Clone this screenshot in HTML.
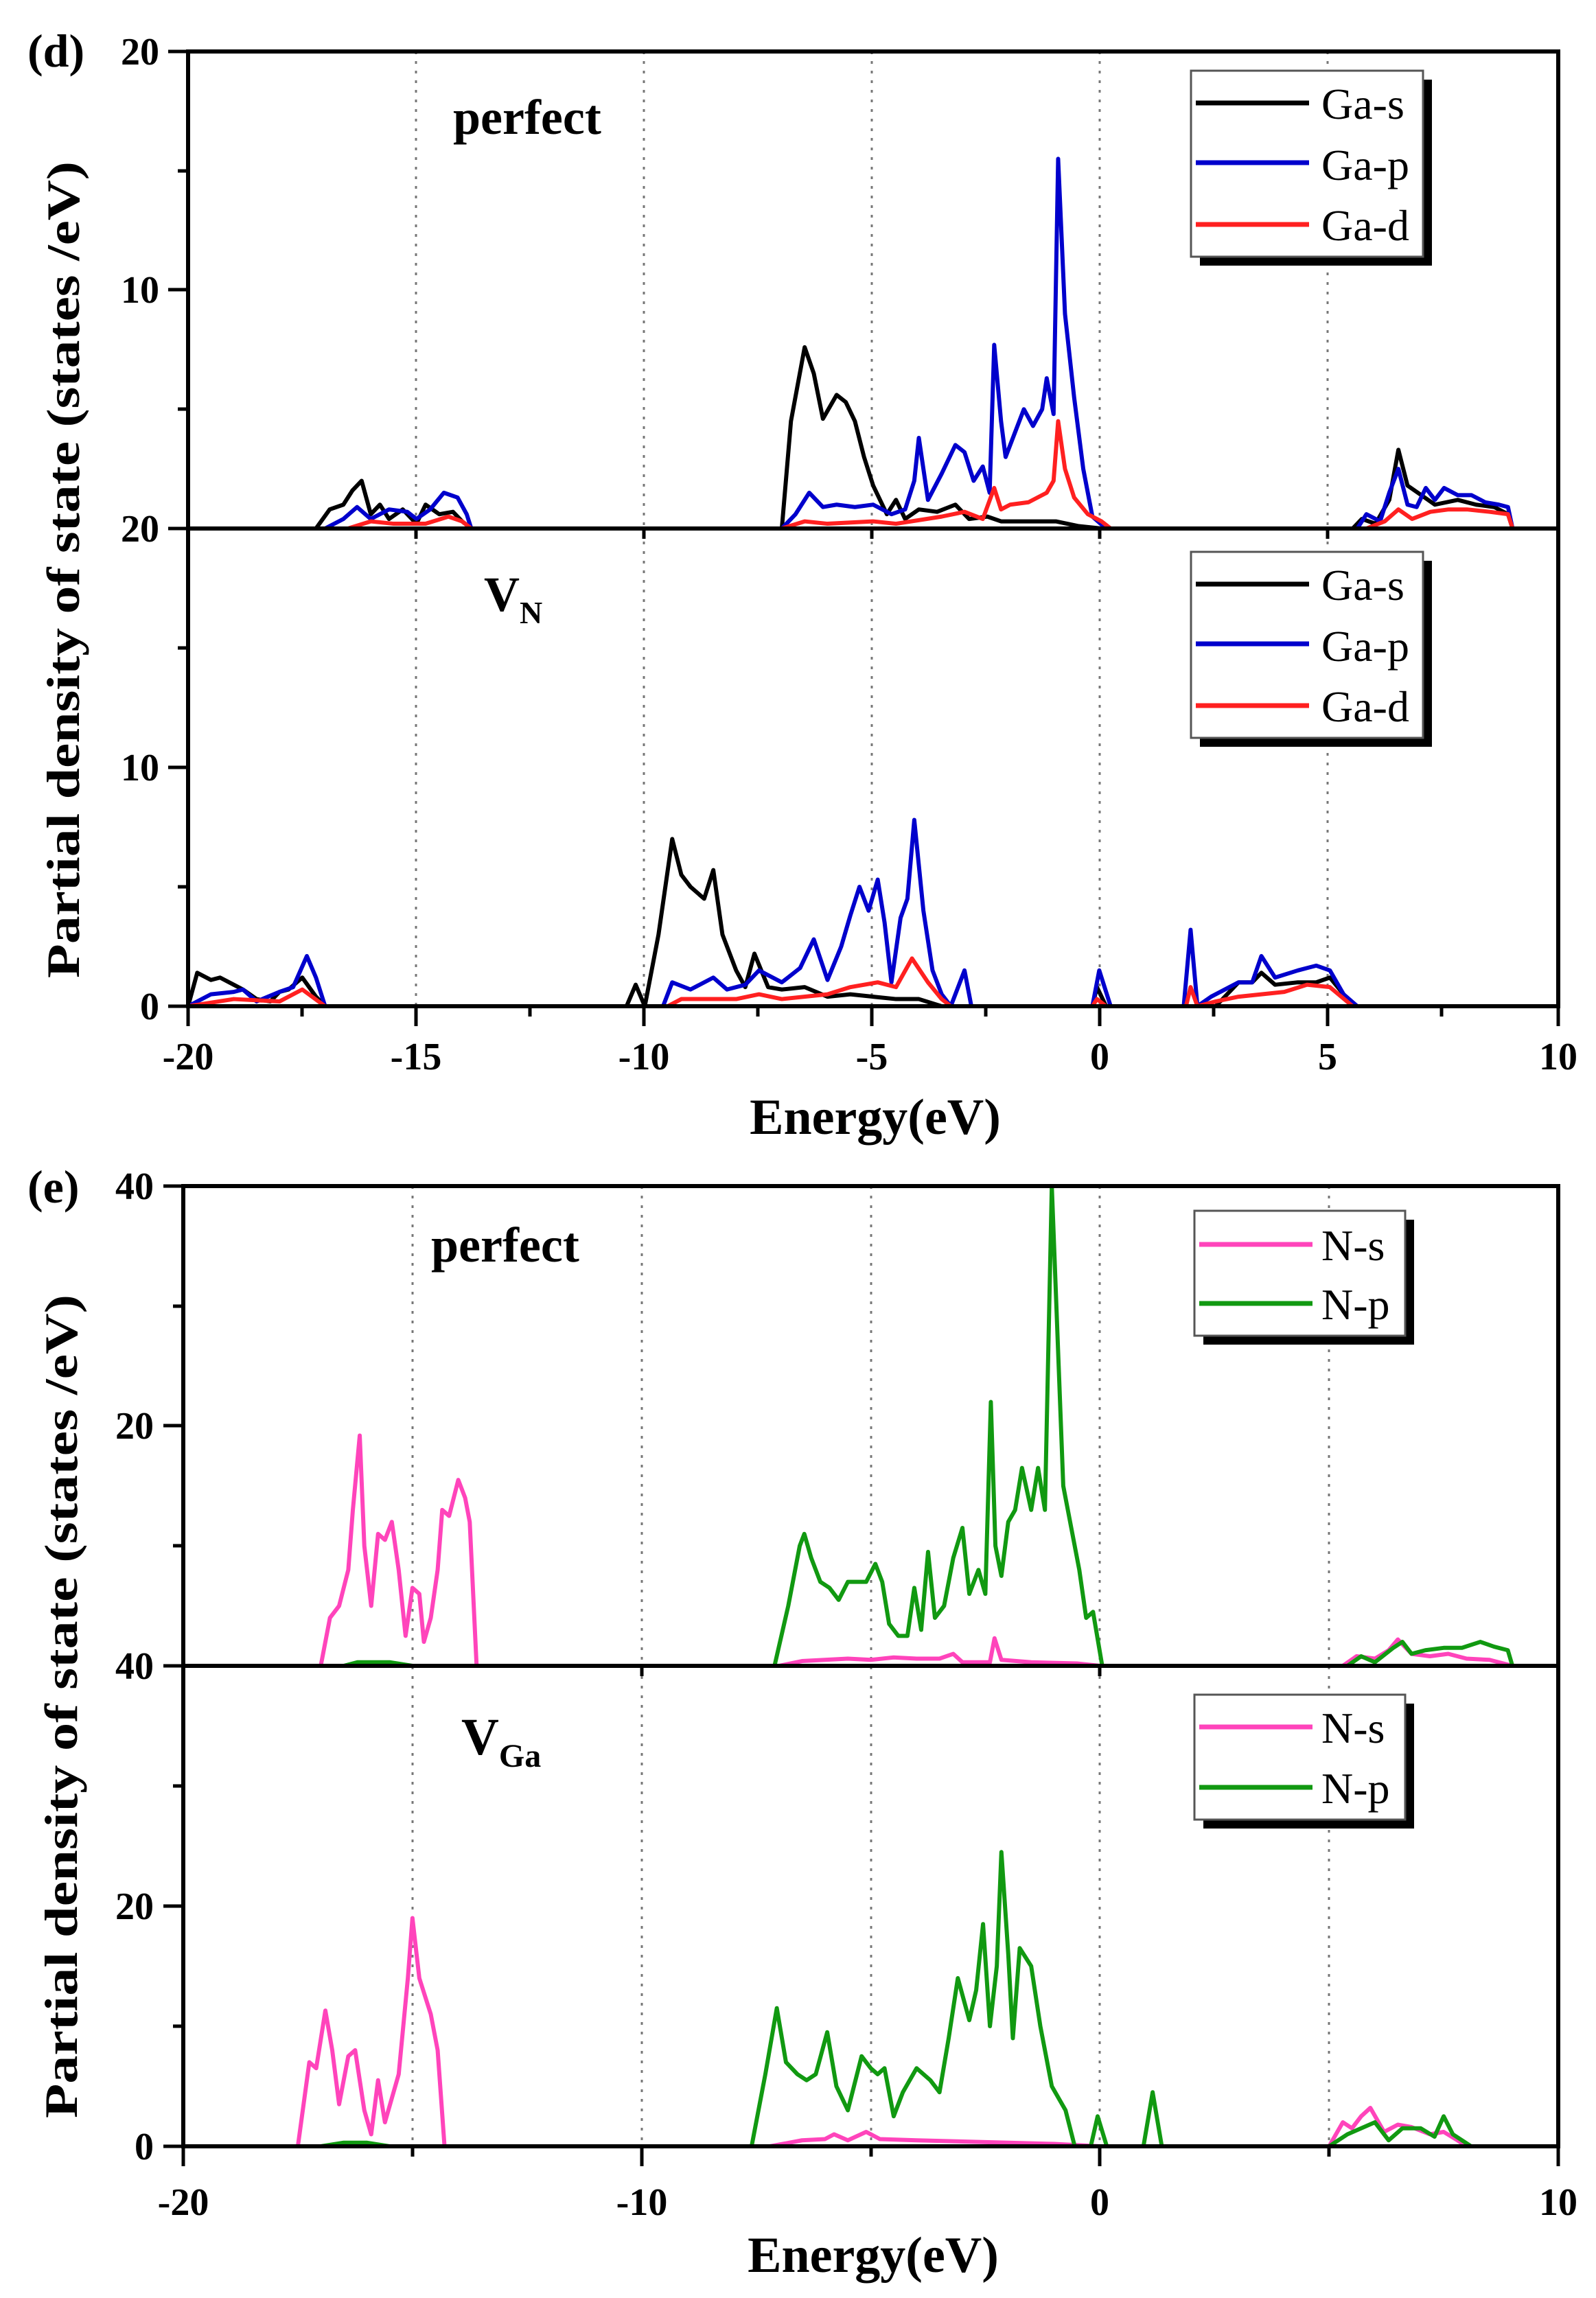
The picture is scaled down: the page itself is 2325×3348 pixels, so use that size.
<!DOCTYPE html>
<html><head><meta charset="utf-8"><style>
html,body{margin:0;padding:0;background:#fff}
svg{display:block}
text{font-family:"Liberation Serif",serif}
polyline{stroke-width:6px}
</style></head><body>
<svg width="2325" height="3348" viewBox="0 0 2325 3348" xmlns="http://www.w3.org/2000/svg">
<rect width="2325" height="3348" fill="#fff"/>

<!-- ===== Panel d ===== -->
<g stroke="#777" stroke-width="3" stroke-dasharray="4,10">
<line x1="606" y1="75" x2="606" y2="1466"/><line x1="938" y1="75" x2="938" y2="1466"/>
<line x1="1270" y1="75" x2="1270" y2="1466"/><line x1="1602" y1="75" x2="1602" y2="1466"/>
<line x1="1934" y1="75" x2="1934" y2="1466"/>
</g>

<svg x="274" y="75" width="1996" height="695" viewBox="-20 -20 30 20" preserveAspectRatio="none" overflow="hidden">
<g fill="none" stroke-linejoin="round">
<polyline vector-effect="non-scaling-stroke" stroke="#000" points="-17.2,0 -16.9,-0.8 -16.6,-1.0 -16.4,-1.6 -16.2,-2.0 -16.0,-0.6 -15.8,-1.0 -15.6,-0.4 -15.3,-0.8 -15.0,-0.2 -14.8,-1.0 -14.5,-0.6 -14.2,-0.7 -14.0,-0.3 -13.8,0 -7.0,0 -6.8,-4.5 -6.5,-7.6 -6.3,-6.5 -6.1,-4.6 -5.8,-5.6 -5.6,-5.3 -5.4,-4.5 -5.2,-3.0 -5.0,-1.8 -4.7,-0.6 -4.5,-1.2 -4.3,-0.4 -4.0,-0.8 -3.6,-0.7 -3.2,-1.0 -2.9,-0.4 -2.5,-0.5 -2.2,-0.3 -1.5,-0.3 -1.0,-0.3 -0.5,-0.1 0,0 5.5,0 5.7,-0.4 6.0,-0.2 6.3,-1.2 6.5,-3.3 6.7,-1.8 7.0,-1.4 7.3,-1.0 7.8,-1.2 8.2,-1.0 8.6,-0.9 8.9,-0.6 9.0,0"/>
<polyline vector-effect="non-scaling-stroke" stroke="#0000cc" points="-17.0,0 -16.6,-0.4 -16.3,-0.9 -16.0,-0.4 -15.6,-0.8 -15.2,-0.7 -15.0,-0.4 -14.7,-0.8 -14.4,-1.5 -14.1,-1.3 -13.9,-0.6 -13.8,0 -7.0,0 -6.7,-0.6 -6.4,-1.5 -6.1,-0.9 -5.8,-1.0 -5.4,-0.9 -5.0,-1.0 -4.6,-0.6 -4.3,-0.8 -4.1,-2.0 -4.0,-3.8 -3.8,-1.2 -3.5,-2.3 -3.2,-3.5 -3.0,-3.2 -2.8,-2.0 -2.6,-2.6 -2.45,-1.5 -2.35,-7.7 -2.2,-4.5 -2.1,-3.0 -1.9,-4.0 -1.7,-5.0 -1.5,-4.3 -1.3,-5.0 -1.2,-6.3 -1.05,-4.8 -0.95,-15.5 -0.8,-9.0 -0.6,-5.5 -0.4,-2.5 -0.2,-0.5 0.1,0 5.6,0 5.8,-0.6 6.1,-0.3 6.3,-1.5 6.5,-2.5 6.7,-1.0 6.9,-0.9 7.1,-1.7 7.3,-1.2 7.5,-1.7 7.8,-1.4 8.1,-1.4 8.4,-1.1 8.7,-1.0 8.9,-0.9 9.0,0"/>
<polyline vector-effect="non-scaling-stroke" stroke="#ff2020" points="-20,0 -16.5,0 -16,-0.3 -15.5,-0.2 -14.8,-0.2 -14.3,-0.5 -14,-0.3 -13.8,0 -7,0 -6.5,-0.3 -6,-0.2 -5,-0.3 -4.5,-0.2 -3.5,-0.5 -3,-0.7 -2.6,-0.4 -2.35,-1.7 -2.2,-0.8 -2.0,-1.0 -1.6,-1.1 -1.2,-1.5 -1.05,-2.0 -0.95,-4.5 -0.8,-2.5 -0.6,-1.3 -0.3,-0.6 0,-0.3 0.2,0 5.8,0 6.2,-0.3 6.5,-0.8 6.8,-0.4 7.2,-0.7 7.6,-0.8 8.0,-0.8 8.5,-0.7 8.9,-0.6 9.0,0 10,0"/>
</g></svg>

<svg x="274" y="770" width="1996" height="696" viewBox="-20 -20 30 20" preserveAspectRatio="none" overflow="hidden">
<g fill="none" stroke-linejoin="round">
<polyline vector-effect="non-scaling-stroke" stroke="#000" points="-20,0 -19.8,-1.4 -19.5,-1.1 -19.3,-1.2 -19.0,-0.9 -18.8,-0.7 -18.5,-0.3 -18.2,-0.2 -18.0,-0.6 -17.8,-0.7 -17.5,-1.2 -17.2,-0.4 -17.0,0 -10.4,0 -10.2,-0.9 -10.0,0 -9.7,-3.0 -9.4,-7.0 -9.2,-5.5 -9.0,-5.0 -8.7,-4.5 -8.5,-5.7 -8.3,-3.0 -8.0,-1.5 -7.8,-0.8 -7.6,-2.2 -7.3,-0.8 -7.0,-0.7 -6.5,-0.8 -6.0,-0.4 -5.5,-0.5 -5.0,-0.4 -4.5,-0.3 -4.0,-0.3 -3.5,0 -0.2,0 -0.1,-0.8 0.1,0 2.5,0 3.0,-1.0 3.3,-1.0 3.5,-1.4 3.8,-0.9 4.3,-1.0 4.7,-1.0 5.0,-1.2 5.3,-0.5 5.5,0 10,0"/>
<polyline vector-effect="non-scaling-stroke" stroke="#0000cc" points="-20,0 -19.5,-0.5 -19,-0.6 -18.8,-0.7 -18.5,-0.2 -18.0,-0.6 -17.7,-0.8 -17.4,-2.1 -17.2,-1.2 -17.0,0 -9.6,0 -9.4,-1.0 -9.0,-0.7 -8.5,-1.2 -8.2,-0.7 -7.8,-0.9 -7.5,-1.5 -7.0,-1.0 -6.6,-1.6 -6.3,-2.8 -6.0,-1.1 -5.7,-2.5 -5.5,-3.8 -5.3,-5.0 -5.1,-4.0 -4.9,-5.3 -4.75,-3.5 -4.6,-1.0 -4.4,-3.7 -4.25,-4.5 -4.1,-7.8 -3.9,-4.0 -3.7,-1.5 -3.5,-0.5 -3.3,0 -3.0,-1.5 -2.85,0 -0.2,0 -0.05,-1.5 0.2,0 1.8,0 1.95,-3.2 2.1,0 2.4,-0.4 3.0,-1.0 3.3,-1.0 3.5,-2.1 3.8,-1.2 4.3,-1.5 4.7,-1.7 5.0,-1.5 5.3,-0.5 5.6,0 10,0"/>
<polyline vector-effect="non-scaling-stroke" stroke="#ff2020" points="-20,0 -19,-0.3 -18,-0.2 -17.5,-0.7 -17.0,0 -9.5,0 -9.2,-0.3 -8,-0.3 -7.5,-0.5 -7,-0.3 -6,-0.5 -5.5,-0.8 -4.9,-1.0 -4.5,-0.8 -4.15,-2.0 -3.8,-1.0 -3.5,-0.3 -3.3,0 -0.2,0 -0.1,-0.3 0.1,0 1.85,0 1.95,-0.8 2.1,0 2.5,-0.2 3,-0.4 3.5,-0.5 4,-0.6 4.5,-0.9 5.0,-0.8 5.5,0 10,0"/>
</g></svg>

<!-- d axes -->
<g stroke="#000" stroke-width="6" fill="none">
<rect x="274" y="75" width="1996" height="1391"/>
<line x1="274" y1="770" x2="2270" y2="770"/>
</g>
<g stroke="#000" stroke-width="5">
<line x1="274" y1="1466" x2="274" y2="1495"/><line x1="606" y1="1466" x2="606" y2="1495"/><line x1="938" y1="1466" x2="938" y2="1495"/><line x1="1270" y1="1466" x2="1270" y2="1495"/><line x1="1602" y1="1466" x2="1602" y2="1495"/><line x1="1934" y1="1466" x2="1934" y2="1495"/><line x1="2270" y1="1466" x2="2270" y2="1495"/>
<line x1="440" y1="1466" x2="440" y2="1481"/><line x1="772" y1="1466" x2="772" y2="1481"/><line x1="1104" y1="1466" x2="1104" y2="1481"/><line x1="1436" y1="1466" x2="1436" y2="1481"/><line x1="1768" y1="1466" x2="1768" y2="1481"/><line x1="2100" y1="1466" x2="2100" y2="1481"/>
<line x1="606" y1="770" x2="606" y2="785"/><line x1="938" y1="770" x2="938" y2="785"/><line x1="1270" y1="770" x2="1270" y2="785"/><line x1="1602" y1="770" x2="1602" y2="785"/><line x1="1934" y1="770" x2="1934" y2="785"/>
<line x1="245" y1="75" x2="274" y2="75"/><line x1="245" y1="422" x2="274" y2="422"/><line x1="245" y1="770" x2="274" y2="770"/><line x1="245" y1="1118" x2="274" y2="1118"/><line x1="245" y1="1466" x2="274" y2="1466"/>
<line x1="259" y1="249" x2="274" y2="249"/><line x1="259" y1="596" x2="274" y2="596"/><line x1="259" y1="944" x2="274" y2="944"/><line x1="259" y1="1292" x2="274" y2="1292"/>
</g>
<g font-size="56" text-anchor="end" font-weight="bold">
<text x="232" y="94">20</text><text x="232" y="441">10</text><text x="232" y="789">20</text><text x="232" y="1137">10</text><text x="232" y="1485">0</text>
</g>
<g font-size="56" text-anchor="middle" font-weight="bold">
<text x="274" y="1558">-20</text><text x="606" y="1558">-15</text><text x="938" y="1558">-10</text><text x="1270" y="1558">-5</text><text x="1602" y="1558">0</text><text x="1934" y="1558">5</text><text x="2270" y="1558">10</text>
</g>
<text x="1275" y="1652" font-size="74" font-weight="bold" text-anchor="middle">Energy(eV)</text>
<text x="40" y="97" font-size="68" font-weight="bold">(d)</text>
<text transform="translate(115,830) rotate(-90)" font-size="68" font-weight="bold" text-anchor="middle" textLength="1190" lengthAdjust="spacingAndGlyphs">Partial density of state (states /eV)</text>
<text x="660" y="195" font-size="72" font-weight="bold">perfect</text>
<text x="705" y="890" font-size="72" font-weight="bold">V<tspan font-size="46" dy="18">N</tspan></text>

<!-- d legends -->
<g>
<rect x="1748" y="116" width="338" height="271" fill="#000"/>
<rect x="1735" y="103" width="338" height="271" fill="#fff" stroke="#555" stroke-width="3"/>
<line x1="1742" y1="150" x2="1907" y2="150" stroke="#000" stroke-width="7"/>
<line x1="1742" y1="237" x2="1907" y2="237" stroke="#0000cc" stroke-width="7"/>
<line x1="1742" y1="327" x2="1907" y2="327" stroke="#ff2020" stroke-width="7"/>
<g font-size="64"><text x="1925" y="173">Ga-s</text><text x="1925" y="262">Ga-p</text><text x="1925" y="350">Ga-d</text></g>
</g>
<g>
<rect x="1748" y="817" width="338" height="271" fill="#000"/>
<rect x="1735" y="804" width="338" height="271" fill="#fff" stroke="#555" stroke-width="3"/>
<line x1="1742" y1="851" x2="1907" y2="851" stroke="#000" stroke-width="7"/>
<line x1="1742" y1="938" x2="1907" y2="938" stroke="#0000cc" stroke-width="7"/>
<line x1="1742" y1="1028" x2="1907" y2="1028" stroke="#ff2020" stroke-width="7"/>
<g font-size="64"><text x="1925" y="874">Ga-s</text><text x="1925" y="963">Ga-p</text><text x="1925" y="1051">Ga-d</text></g>
</g>

<!-- ===== Panel e ===== -->
<g stroke="#777" stroke-width="3" stroke-dasharray="4,10">
<line x1="601" y1="1728" x2="601" y2="3127"/><line x1="935" y1="1728" x2="935" y2="3127"/>
<line x1="1269" y1="1728" x2="1269" y2="3127"/><line x1="1602" y1="1728" x2="1602" y2="3127"/>
<line x1="1936" y1="1728" x2="1936" y2="3127"/>
</g>

<svg x="267" y="1728" width="2003" height="699" viewBox="-20 -40 30 40" preserveAspectRatio="none" overflow="hidden">
<g fill="none" stroke-linejoin="round">
<polyline vector-effect="non-scaling-stroke" stroke="#ff44bb" points="-17.0,0 -16.8,-4.0 -16.6,-5.0 -16.4,-8 -16.3,-13 -16.15,-19.2 -16.05,-10 -15.9,-5 -15.75,-11 -15.6,-10.5 -15.45,-12 -15.3,-8 -15.15,-2.5 -15.0,-6.5 -14.85,-6 -14.75,-2 -14.6,-4 -14.45,-8 -14.35,-13 -14.2,-12.5 -14.0,-15.5 -13.85,-14 -13.75,-12 -13.6,0 -7,0 -6.5,-0.4 -5.5,-0.6 -5,-0.5 -4.5,-0.7 -4,-0.6 -3.5,-0.6 -3.2,-1.0 -3,-0.3 -2.4,-0.3 -2.3,-2.3 -2.15,-0.5 -1.5,-0.3 -0.5,-0.2 0,0 5.3,0 5.6,-0.8 6.0,-0.6 6.3,-1.3 6.5,-2.2 6.8,-1.0 7.2,-0.8 7.6,-1.0 8.0,-0.6 8.5,-0.5 9.0,0"/>
<polyline vector-effect="non-scaling-stroke" stroke="#119911" points="-20,0 -16.5,0 -16.2,-0.3 -15.5,-0.3 -15,0 -7.1,0 -6.8,-5 -6.55,-10 -6.45,-11 -6.3,-9 -6.1,-7 -5.9,-6.5 -5.7,-5.5 -5.5,-7 -5.3,-7 -5.1,-7 -4.9,-8.5 -4.75,-7 -4.6,-3.5 -4.4,-2.5 -4.2,-2.5 -4.05,-6.5 -3.9,-3 -3.75,-9.5 -3.6,-4 -3.4,-5 -3.2,-9 -3.0,-11.5 -2.85,-6 -2.65,-8 -2.5,-6 -2.38,-22 -2.28,-10 -2.15,-7.5 -2.0,-12 -1.85,-13 -1.7,-16.5 -1.5,-13 -1.35,-16.5 -1.2,-13 -1.05,-40 -0.9,-25 -0.8,-15 -0.6,-11 -0.45,-8 -0.3,-4 -0.15,-4.5 0.05,0 5.4,0 5.7,-0.8 6.0,-0.3 6.4,-1.5 6.6,-2.0 6.8,-1.0 7.1,-1.3 7.5,-1.5 7.9,-1.5 8.3,-2.0 8.6,-1.6 8.9,-1.3 9.0,0 10,0"/>
</g></svg>

<svg x="267" y="2427" width="2003" height="700" viewBox="-20 -40 30 40" preserveAspectRatio="none" overflow="hidden">
<g fill="none" stroke-linejoin="round">
<polyline vector-effect="non-scaling-stroke" stroke="#ff44bb" points="-17.5,0 -17.25,-7 -17.1,-6.5 -16.9,-11.3 -16.75,-8 -16.6,-3.5 -16.4,-7.5 -16.25,-8 -16.05,-3 -15.9,-1 -15.75,-5.5 -15.6,-2 -15.45,-4 -15.3,-6 -15.1,-14 -15.0,-19 -14.85,-14 -14.6,-11 -14.45,-8 -14.3,0 -7.2,0 -6.5,-0.5 -6,-0.6 -5.8,-1.0 -5.5,-0.5 -5.1,-1.2 -4.8,-0.6 -4,-0.5 -3,-0.4 -2,-0.3 -1,-0.2 0,0 5.0,0 5.3,-2 5.5,-1.5 5.7,-2.5 5.9,-3.2 6.2,-1.2 6.5,-1.8 6.8,-1.6 7.2,-1.0 7.5,-1.2 7.8,-0.5 8.0,0"/>
<polyline vector-effect="non-scaling-stroke" stroke="#119911" points="-20,0 -17,0 -16.5,-0.3 -16,-0.3 -15.5,0 -7.6,0 -7.3,-6 -7.05,-11.5 -6.85,-7 -6.6,-6 -6.4,-5.5 -6.2,-6 -5.95,-9.5 -5.75,-5 -5.5,-3 -5.2,-7.5 -5.0,-6.5 -4.85,-6 -4.7,-6.5 -4.5,-2.5 -4.3,-4.5 -4.0,-6.5 -3.7,-5.5 -3.5,-4.5 -3.3,-9 -3.1,-14 -2.85,-10.5 -2.7,-13 -2.55,-18.5 -2.4,-10 -2.25,-15 -2.15,-24.5 -2.0,-16 -1.9,-9 -1.75,-16.5 -1.5,-15 -1.3,-10 -1.05,-5 -0.75,-3 -0.55,0 -0.2,0 -0.05,-2.5 0.15,0 0.95,0 1.15,-4.5 1.35,0 5.0,0 5.4,-1 5.7,-1.5 6.0,-2 6.3,-0.5 6.6,-1.5 7.0,-1.5 7.3,-0.8 7.5,-2.5 7.7,-1.0 7.9,-0.5 8.1,0 10,0"/>
</g></svg>

<g stroke="#000" stroke-width="6" fill="none">
<rect x="267" y="1728" width="2003" height="1399"/>
<line x1="267" y1="2427" x2="2270" y2="2427"/>
</g>
<g stroke="#000" stroke-width="5">
<line x1="267" y1="3127" x2="267" y2="3156"/><line x1="935" y1="3127" x2="935" y2="3156"/><line x1="1602" y1="3127" x2="1602" y2="3156"/><line x1="2270" y1="3127" x2="2270" y2="3156"/>
<line x1="601" y1="3127" x2="601" y2="3142"/><line x1="1269" y1="3127" x2="1269" y2="3142"/><line x1="1936" y1="3127" x2="1936" y2="3142"/>
<line x1="935" y1="2427" x2="935" y2="2442"/><line x1="1602" y1="2427" x2="1602" y2="2442"/>
<line x1="238" y1="1728" x2="267" y2="1728"/><line x1="238" y1="2077" x2="267" y2="2077"/><line x1="238" y1="2427" x2="267" y2="2427"/><line x1="238" y1="2777" x2="267" y2="2777"/><line x1="238" y1="3127" x2="267" y2="3127"/>
<line x1="252" y1="1903" x2="267" y2="1903"/><line x1="252" y1="2252" x2="267" y2="2252"/><line x1="252" y1="2602" x2="267" y2="2602"/><line x1="252" y1="2952" x2="267" y2="2952"/>
</g>
<g font-size="56" text-anchor="end" font-weight="bold">
<text x="224" y="1747">40</text><text x="224" y="2096">20</text><text x="224" y="2446">40</text><text x="224" y="2796">20</text><text x="224" y="3146">0</text>
</g>
<g font-size="56" text-anchor="middle" font-weight="bold">
<text x="267" y="3227">-20</text><text x="935" y="3227">-10</text><text x="1602" y="3227">0</text><text x="2270" y="3227">10</text>
</g>
<text x="1272" y="3310" font-size="74" font-weight="bold" text-anchor="middle">Energy(eV)</text>
<text x="40" y="1752" font-size="68" font-weight="bold">(e)</text>
<text transform="translate(112,2486) rotate(-90)" font-size="68" font-weight="bold" text-anchor="middle" textLength="1200" lengthAdjust="spacingAndGlyphs">Partial density of state (states /eV)</text>
<text x="628" y="1838" font-size="72" font-weight="bold">perfect</text>
<text x="672" y="2556" font-size="76" font-weight="bold">V<tspan font-size="48" dy="18">Ga</tspan></text>

<g>
<rect x="1753" y="1777" width="307" height="182" fill="#000"/>
<rect x="1740" y="1764" width="307" height="182" fill="#fff" stroke="#555" stroke-width="3"/>
<line x1="1747" y1="1813" x2="1912" y2="1813" stroke="#ff44bb" stroke-width="7"/>
<line x1="1747" y1="1899" x2="1912" y2="1899" stroke="#119911" stroke-width="7"/>
<g font-size="64"><text x="1925" y="1836">N-s</text><text x="1925" y="1922">N-p</text></g>
</g>
<g>
<rect x="1753" y="2482" width="307" height="182" fill="#000"/>
<rect x="1740" y="2469" width="307" height="182" fill="#fff" stroke="#555" stroke-width="3"/>
<line x1="1747" y1="2516" x2="1912" y2="2516" stroke="#ff44bb" stroke-width="7"/>
<line x1="1747" y1="2604" x2="1912" y2="2604" stroke="#119911" stroke-width="7"/>
<g font-size="64"><text x="1925" y="2539">N-s</text><text x="1925" y="2627">N-p</text></g>
</g>
</svg>
</body></html>
